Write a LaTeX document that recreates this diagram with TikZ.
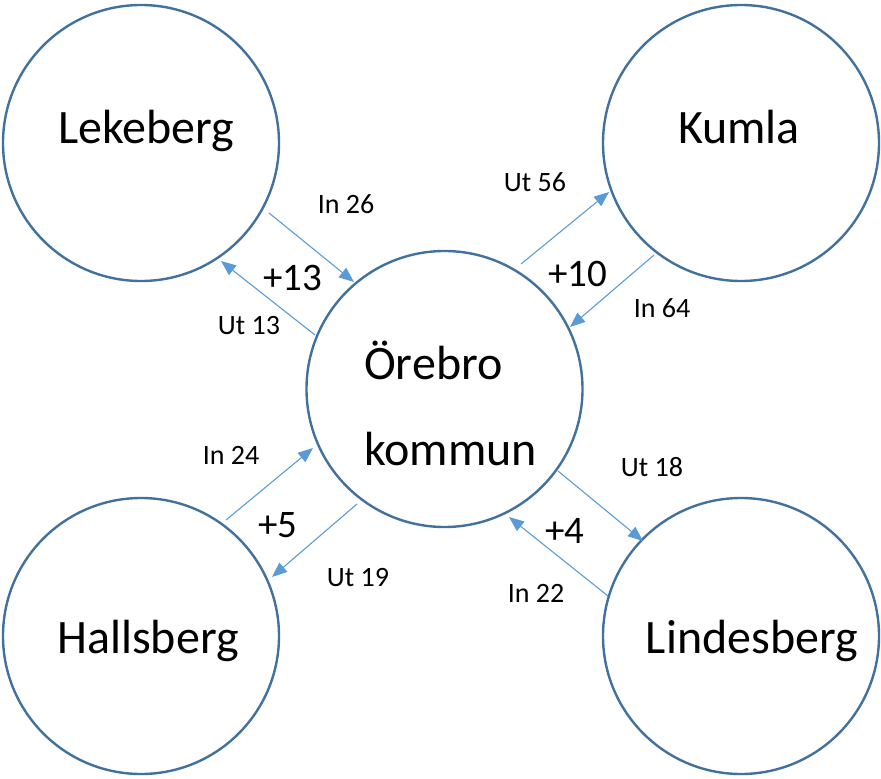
\documentclass[tikz,border=0pt]{standalone}
\usepackage{fontspec}
\setmainfont{Carlito}
\usetikzlibrary{arrows.meta}
\definecolor{ringblue}{HTML}{41719C}
\definecolor{arrowblue}{HTML}{5B9BD5}
\tikzset{
  town/.style={circle, draw=ringblue, line width=2.4pt, minimum size=276pt, inner sep=0pt, fill=white},
  townname/.style={anchor=base, inner sep=0pt, font=\fontsize{48}{58}\selectfont},
  flowlbl/.style={anchor=base, inner sep=0pt, font=\fontsize{28}{34}\selectfont},
  netlbl/.style={anchor=base, inner sep=0pt, font=\fontsize{39}{46}\selectfont},
  flow/.style={draw=arrowblue, line width=1.1pt, -{Triangle[length=15pt,width=12pt]}}
}
\begin{document}
\begin{tikzpicture}[x=1pt,y=-1pt]
\useasboundingbox (0,0) rectangle (881,779);
% circles
\node[town] (lek) at (141,143) {};
\node[town] (kum) at (741,143) {};
\node[town] (ore) at (444.5,389) {};
\node[town] (hal) at (141,636) {};
\node[town] (lin) at (741,636) {};
% names
\node[townname] (tlek) at (146,143) {Lekeberg};
\node[townname] (tkum) at (739,143) {Kumla};
\node[townname, anchor=base west] (tore1) at (364,379) {Örebro};
\node[townname, anchor=base west] (tore2) at (364,465) {kommun};
\node[townname] (thal) at (148,653) {Hallsberg};
\node[townname] (tlin) at (752,653) {Lindesberg};
% arrow end points
\coordinate (a1s) at (269,213); \coordinate (a1e) at (354,282);
\coordinate (a2s) at (315,335); \coordinate (a2e) at (221,261);
\coordinate (b1s) at (521,264); \coordinate (b1e) at (609,192);
\coordinate (b2s) at (654,255); \coordinate (b2e) at (570,327);
\coordinate (c1s) at (226,520); \coordinate (c1e) at (313,448);
\coordinate (c2s) at (357,504); \coordinate (c2e) at (272,577);
\coordinate (d1s) at (558,471); \coordinate (d1e) at (643,541);
\coordinate (d2s) at (608,596); \coordinate (d2e) at (509,517);
% arrows
\draw[flow] (a1s) -- (a1e);
\draw[flow] (a2s) -- (a2e);
\draw[flow] (b1s) -- (b1e);
\draw[flow] (b2s) -- (b2e);
\draw[flow] (c1s) -- (c1e);
\draw[flow] (c2s) -- (c2e);
\draw[flow] (d1s) -- (d1e);
\draw[flow] (d2s) -- (d2e);
% labels
\node[flowlbl] (l1) at (346,213) {In 26};
\node[netlbl] (n1) at (293,290) {+13};
\node[flowlbl] (l2) at (249,334) {Ut 13};
\node[flowlbl] (l3) at (535,191) {Ut 56};
\node[netlbl] (n2) at (578,286) {+10};
\node[flowlbl] (l4) at (662,317) {In 64};
\node[flowlbl] (l5) at (231,464) {In 24};
\node[netlbl] (n3) at (278,537) {+5};
\node[flowlbl] (l6) at (358,586) {Ut 19};
\node[flowlbl] (l7) at (652,476) {Ut 18};
\node[netlbl] (n4) at (565,543) {+4};
\node[flowlbl] (l8) at (536,602) {In 22};
\end{tikzpicture}
\end{document}
